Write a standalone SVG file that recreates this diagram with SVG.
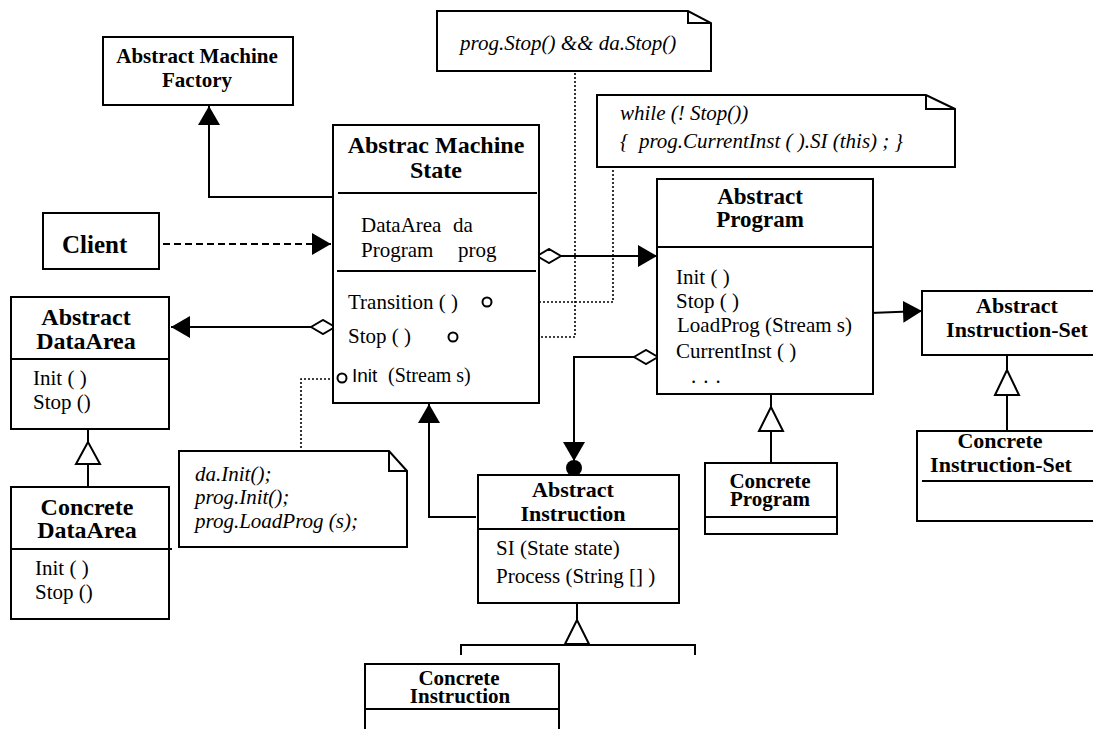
<svg xmlns="http://www.w3.org/2000/svg" width="1093" height="729" viewBox="0 0 1093 729">
  <style>
    .box { fill: #fff; stroke: #000; stroke-width: 2; }
    .sep { fill: none; stroke: #000; stroke-width: 2; }
    .ln { fill: none; stroke: #000; stroke-width: 2; }
    .dash { fill: none; stroke: #000; stroke-width: 2; stroke-dasharray: 7 4; }
    .dot { fill: none; stroke: #000; stroke-width: 1.6; stroke-dasharray: 2 2; }
    .gen { fill: #fff; stroke: #000; stroke-width: 2; }
    .port { fill: #fff; stroke: #000; stroke-width: 2; }
    text { font-family: "Liberation Serif", "Times New Roman", serif; fill: #000; }
    .t { font-weight: bold; text-anchor: middle; }
    .m { font-size: 21px; }
    .n { font-size: 21px; font-style: italic; }
    .sans { font-family: "Liberation Sans", Arial, sans-serif; font-size: 19px; }
  </style>
  <defs>
    <marker id="arrow" markerUnits="userSpaceOnUse" markerWidth="20" markerHeight="22" refX="19" refY="11" orient="auto">
      <path d="M0,0 L19,11 L0,22 Z" fill="#000"/>
    </marker>
    <marker id="diamond" markerUnits="userSpaceOnUse" markerWidth="26" markerHeight="16" refX="1" refY="8" orient="auto">
      <path d="M1,8 L13,1 L25,8 L13,15 Z" fill="#fff" stroke="#000" stroke-width="2"/>
    </marker>
  </defs>

  <!-- connectors -->
  <g id="connectors">
    <path class="ln" d="M333,197 H209 V106" marker-end="url(#arrow)"/>
    <path class="dash" d="M163,244 H331" marker-end="url(#arrow)"/>
    <path class="ln" d="M335,327 H171" marker-start="url(#diamond)" marker-end="url(#arrow)"/>
    <path class="ln" d="M537,256 H657" marker-start="url(#diamond)" marker-end="url(#arrow)"/>
    <path class="ln" d="M658,357 H574 V461" marker-start="url(#diamond)" marker-end="url(#arrow)"/>
    <circle cx="574" cy="468" r="8" fill="#000"/>
    <path class="ln" d="M870,313 L922,311" stroke-width="2.5" marker-end="url(#arrow)"/>
    <path class="ln" d="M476,517 H429 V404" marker-end="url(#arrow)"/>

    <!-- generalizations -->
    <path class="ln" d="M88,429 V442 M88,464 V487"/>
    <polygon class="gen" points="88,442 76,464 100,464"/>
    <path class="ln" d="M771,394 V407 M771,431 V463"/>
    <polygon class="gen" points="771,407 759,431 783,431"/>
    <path class="ln" d="M1007,355 V370 M1007,395 V431"/>
    <polygon class="gen" points="1007,370 995,395 1019,395"/>
    <path class="ln" d="M577,603 V620 M461,655 V645 H695 V655"/>
    <polygon class="gen" points="577,620 565,644 589,644"/>

    <!-- note links -->
    <path class="dot" d="M491,302 H613 V170"/>
    <path class="dot" d="M457,337 H575 V72"/>
    <path class="dot" d="M338,379 H301 V451"/>
  </g>

  <g id="abstract-machine-factory">
    <rect class="box" x="103" y="37" width="190" height="68"/>
    <text class="t" x="197" y="63" font-size="21">Abstract Machine</text>
    <text class="t" x="197" y="87" font-size="21">Factory</text>
  </g>

  <g id="client">
    <rect class="box" x="43" y="213" width="116" height="56"/>
    <text x="62" y="253" font-size="25" font-weight="bold">Client</text>
  </g>

  <g id="abstract-machine-state">
    <rect class="box" x="333" y="125" width="206" height="278"/>
    <line class="sep" x1="338" y1="193" x2="537" y2="193"/>
    <line class="sep" x1="337" y1="271" x2="536" y2="271"/>
    <text class="t" x="436" y="153" font-size="24">Abstrac Machine</text>
    <text class="t" x="436" y="178" font-size="24">State</text>
    <text class="m" x="361" y="232">DataArea</text>
    <text class="m" x="453" y="232">da</text>
    <text class="m" x="361" y="257">Program</text>
    <text class="m" x="458" y="257">prog</text>
    <text class="m" x="348" y="309">Transition ( )</text>
    <text class="m" x="348" y="343">Stop ( )</text>
    <text class="sans" x="352" y="382">Init</text>
    <text x="388" y="382" font-size="20">(Stream s)</text>
    <circle class="port" cx="487" cy="302" r="4.5"/>
    <circle class="port" cx="453" cy="337" r="4.5"/>
    <circle class="port" cx="342" cy="378" r="4.5"/>
  </g>

  <g id="abstract-dataarea">
    <rect class="box" x="11" y="297" width="158" height="132"/>
    <line class="sep" x1="11" y1="359" x2="169" y2="359"/>
    <text class="t" x="86" y="325" font-size="24">Abstract</text>
    <text class="t" x="86" y="349" font-size="24">DataArea</text>
    <text class="m" x="33" y="385">Init ( )</text>
    <text class="m" x="33" y="409">Stop ()</text>
  </g>

  <g id="concrete-dataarea">
    <rect class="box" x="11" y="487" width="158" height="132"/>
    <line class="sep" x1="11" y1="549" x2="172" y2="549"/>
    <text class="t" x="87" y="515" font-size="24">Concrete</text>
    <text class="t" x="87" y="538" font-size="24">DataArea</text>
    <text class="m" x="35" y="575">Init ( )</text>
    <text class="m" x="35" y="599">Stop ()</text>
  </g>

  <g id="note-stop">
    <path class="box" d="M437,11 H688 L711,23 V71 H437 Z"/>
    <path class="sep" d="M688,11 V23 H711"/>
    <text class="n" x="460" y="50">prog.Stop() &amp;&amp; da.Stop()</text>
  </g>

  <g id="note-transition">
    <path class="box" d="M597,95 H926 L955,109 V167 H597 Z"/>
    <path class="sep" d="M926,95 V109 H955"/>
    <text class="n" x="620" y="120">while (! Stop())</text>
    <text class="n" x="620" y="148" xml:space="preserve">{  prog.CurrentInst ( ).SI (this) ; }</text>
  </g>

  <g id="note-init">
    <path class="box" d="M179,451 H389 L407,471 V547 H179 Z"/>
    <path class="sep" d="M389,451 V471 H407"/>
    <text class="n" x="195" y="481">da.Init();</text>
    <text class="n" x="195" y="504">prog.Init();</text>
    <text class="n" x="195" y="528">prog.LoadProg (s);</text>
  </g>

  <g id="abstract-program">
    <rect class="box" x="657" y="179" width="216" height="215"/>
    <line class="sep" x1="657" y1="247" x2="873" y2="247"/>
    <text class="t" x="760" y="204" font-size="23">Abstract</text>
    <text class="t" x="760" y="227" font-size="23">Program</text>
    <text class="m" x="676" y="284">Init ( )</text>
    <text class="m" x="676" y="308">Stop ( )</text>
    <text class="m" x="677" y="332">LoadProg (Stream s)</text>
    <text class="m" x="676" y="358">CurrentInst ( )</text>
    <text class="m" x="691" y="383" letter-spacing="7">...</text>
  </g>

  <g id="abstract-instruction-set">
    <rect class="box" x="922" y="291" width="180" height="64"/>
    <text class="t" x="1017" y="313" font-size="22">Abstract</text>
    <text class="t" x="1017" y="337" font-size="22">Instruction-Set</text>
  </g>

  <g id="concrete-instruction-set">
    <rect class="box" x="917" y="431" width="185" height="90"/>
    <line class="sep" x1="922" y1="481" x2="1093" y2="481"/>
    <text class="t" x="1000" y="448" font-size="22">Concrete</text>
    <text class="t" x="1001" y="472" font-size="22">Instruction-Set</text>
  </g>

  <g id="concrete-program">
    <rect class="box" x="705" y="463" width="132" height="71"/>
    <line class="sep" x1="705" y1="517" x2="837" y2="517"/>
    <text class="t" x="770" y="488" font-size="21">Concrete</text>
    <text class="t" x="770" y="506" font-size="21">Program</text>
  </g>

  <g id="abstract-instruction">
    <rect class="box" x="478" y="475" width="201" height="128"/>
    <line class="sep" x1="478" y1="529" x2="679" y2="529"/>
    <text class="t" x="573" y="497" font-size="22">Abstract</text>
    <text class="t" x="573" y="521" font-size="22">Instruction</text>
    <text class="m" x="496" y="555">SI (State state)</text>
    <text class="m" x="496" y="583">Process (String [] )</text>
  </g>

  <g id="concrete-instruction">
    <rect class="box" x="365" y="664" width="194" height="80"/>
    <line class="sep" x1="365" y1="709" x2="559" y2="709"/>
    <text class="t" x="459" y="685" font-size="21">Concrete</text>
    <text class="t" x="460" y="703" font-size="21">Instruction</text>
  </g>
</svg>
